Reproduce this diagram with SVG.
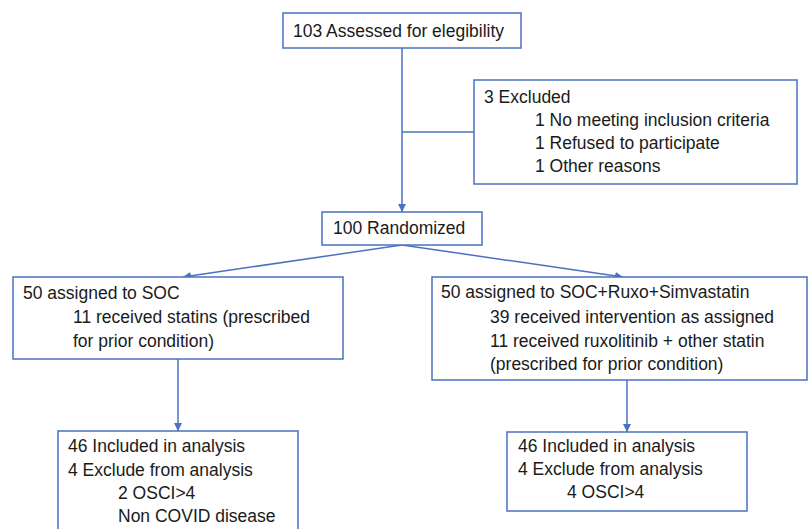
<svg xmlns="http://www.w3.org/2000/svg" width="808" height="529" viewBox="0 0 808 529">
<style>
.box{fill:#fff;stroke:#4a72c0;stroke-width:1.5}
.t{font-family:"Liberation Sans",Arial,sans-serif;font-size:17.5px;fill:#1a1a1a}
.c{fill:none;stroke:#4a72c0;stroke-width:1.5}
</style>
<defs>
<marker id="ah" viewBox="0 0 10 10" refX="10" refY="5" markerWidth="8" markerHeight="8" markerUnits="userSpaceOnUse" orient="auto">
<path d="M0,0 L10,5 L0,10 z" fill="#4a72c0"/>
</marker>
</defs>
<rect width="808" height="529" fill="#fff"/>
<g id="connectors">
<line class="c" x1="402" y1="48" x2="402" y2="212" marker-end="url(#ah)"/>
<line class="c" x1="402" y1="132" x2="474" y2="132"/>
<line class="c" x1="402" y1="245" x2="183" y2="277" marker-end="url(#ah)"/>
<line class="c" x1="402" y1="245" x2="623" y2="277" marker-end="url(#ah)"/>
<line class="c" x1="178" y1="359" x2="178" y2="431" marker-end="url(#ah)"/>
<line class="c" x1="627" y1="380" x2="627" y2="432" marker-end="url(#ah)"/>
</g>
<g id="assessed">
<rect class="box" x="283" y="13" width="238" height="35"/>
<text class="t" x="293" y="37">103 Assessed for elegibility</text>
</g>
<g id="excluded">
<rect class="box" x="474" y="80" width="323" height="104"/>
<text class="t" x="484" y="103">3 Excluded</text>
<text class="t" x="535" y="126">1 No meeting inclusion criteria</text>
<text class="t" x="535" y="149">1 Refused to participate</text>
<text class="t" x="535" y="172">1 Other reasons</text>
</g>
<g id="randomized">
<rect class="box" x="322" y="212" width="160" height="33"/>
<text class="t" x="333" y="234">100 Randomized</text>
</g>
<g id="soc">
<rect class="box" x="13" y="277" width="330" height="82"/>
<text class="t" x="23" y="299">50 assigned to SOC</text>
<text class="t" x="73" y="323">11 received statins (prescribed</text>
<text class="t" x="73" y="347">for prior condition)</text>
</g>
<g id="soc-ruxo">
<rect class="box" x="432" y="277" width="375" height="103"/>
<text class="t" x="441" y="298">50 assigned to SOC+Ruxo+Simvastatin</text>
<text class="t" x="490" y="323">39 received intervention as assigned</text>
<text class="t" x="490" y="347">11 received ruxolitinib + other statin</text>
<text class="t" x="490" y="370">(prescribed for prior condition)</text>
</g>
<g id="analysis-soc">
<rect class="box" x="58" y="431" width="240" height="110"/>
<text class="t" x="68" y="452">46 Included in analysis</text>
<text class="t" x="68" y="476">4 Exclude from analysis</text>
<text class="t" x="118" y="499">2 OSCI&gt;4</text>
<text class="t" x="118" y="522">Non COVID disease</text>
</g>
<g id="analysis-ruxo">
<rect class="box" x="507" y="432" width="240" height="79"/>
<text class="t" x="518" y="452">46 Included in analysis</text>
<text class="t" x="518" y="475">4 Exclude from analysis</text>
<text class="t" x="567" y="498">4 OSCI&gt;4</text>
</g>
</svg>
